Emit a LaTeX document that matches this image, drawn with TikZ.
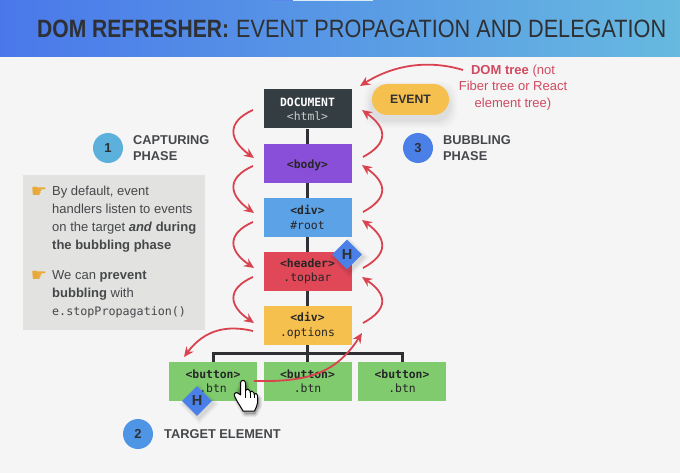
\documentclass[tikz,border=0pt]{standalone}
\usepackage{fontspec}
\setmainfont{Liberation Sans}
\setmonofont{DejaVu Sans Mono}
\newfontfamily\symfont{DejaVu Sans}
\usetikzlibrary{arrows.meta,shapes.geometric}
\definecolor{bgc}{HTML}{F5F5F5}
\definecolor{barl}{HTML}{4A78EA}
\definecolor{barr}{HTML}{67B9E0}
\definecolor{ink}{HTML}{2E3033}
\definecolor{txt}{HTML}{45474A}
\definecolor{redc}{HTML}{D9434F}
\definecolor{redt}{HTML}{CF4A60}
\definecolor{panel}{HTML}{E2E2E0}
\definecolor{docc}{HTML}{343E42}
\definecolor{bodyc}{HTML}{8A4FD8}
\definecolor{divc}{HTML}{5BA2E6}
\definecolor{headc}{HTML}{E04858}
\definecolor{optc}{HTML}{F6C04E}
\definecolor{btnc}{HTML}{80CB6E}
\definecolor{bluec}{HTML}{4B80E8}
\definecolor{capc}{HTML}{5BB0DC}
\definecolor{tgtc}{HTML}{4F95E6}
\definecolor{pointc}{HTML}{E8A93A}
\tikzset{
  dombox/.style={draw=none,minimum width=88pt,minimum height=39pt,inner sep=0pt,align=center,
    font=\ttfamily\fontsize{11.4}{14.2}\selectfont,text=black!85,
    execute at begin node={\rule{0pt}{12pt}}},
  tree/.style={draw=ink,line width=3pt},
  flow/.style={draw=redc,line width=1.8pt,-{Stealth[length=10pt,width=9pt]}},
  badge/.style={circle,minimum size=30pt,inner sep=0pt,font=\bfseries\fontsize{13}{13}\selectfont,text=ink},
  phase/.style={anchor=west,align=left,inner sep=0pt,font=\bfseries\fontsize{12.8}{15.7}\selectfont,text=txt},
  hmark/.style={diamond,fill=bluec,minimum width=30pt,minimum height=30pt,inner sep=0pt,
    font=\bfseries\fontsize{14.5}{14.5}\selectfont,text=ink},
  note/.style={anchor=west,align=left,inner sep=0pt,font=\fontsize{13}{17.9}\selectfont,text=txt},
  pointer/.style={inner sep=0pt,font=\symfont\fontsize{18}{18}\selectfont,text=pointc},
}
\begin{document}
\begin{tikzpicture}[x=1pt,y=-1pt]
\useasboundingbox (0,0) rectangle (680,473);
\fill[bgc] (0,0) rectangle (680,473);
\shade[left color=barl,right color=barr] (0,0) rectangle (680,57);
\fill[barl!90!white] (272,0) rectangle (293,1);
\fill[white!75!barr] (293,0) rectangle (373,1);
\node[anchor=west,inner sep=0pt,text=ink] (title) at (37,28.5)
  {\resizebox{192pt}{17.5pt}{\textbf{DOM REFRESHER:}}};
\node[anchor=west,inner sep=0pt,text=ink] (title2) at (236,28.5)
  {\resizebox{430pt}{17.5pt}{EVENT PROPAGATION AND DELEGATION}};

% grey panel
\fill[panel] (23,175) rectangle (205,330);
\node[pointer] (p1) at (39,192) {☛};
\node[note] (n1) at (52,219) {By default, event\\handlers listen to events\\on the target \textbf{\textit{and}} \textbf{during}\\\textbf{the bubbling phase}};
\node[pointer] (p2) at (39,276.5) {☛};
\node[note] (n2) at (52,294.5) {We can \textbf{prevent}\\\textbf{bubbling} with\\{\ttfamily\fontsize{11.7}{17.9}\selectfont e.stopPropagation()}};

% DOM boxes
\node[dombox,fill=docc,text=white] (doc) at (307.5,109) {\textbf{DOCUMENT}\\{\color{white!80!black}<html>}};
\node[dombox,fill=bodyc] (body) at (307.5,163.5) {\textbf{<body>}};
\node[dombox,fill=divc] (root) at (307.5,217.5) {\textbf{<div>}\\\#root};
\node[dombox,fill=headc] (head) at (307.5,271.5) {\textbf{<header>}\\.topbar};
\node[dombox,fill=optc] (opt) at (307.5,325.5) {\textbf{<div>}\\.options};
\node[dombox,fill=btnc] (b1) at (213,381.5) {\textbf{<button>}\\.btn};
\node[dombox,fill=btnc] (b2) at (307.5,381.5) {\textbf{<button>}\\.btn};
\node[dombox,fill=btnc] (b3) at (402,381.5) {\textbf{<button>}\\.btn};
\draw[tree] (doc) -- (body);
\draw[tree] (body) -- (root);
\draw[tree] (root) -- (head);
\draw[tree] (head) -- (opt);
\draw[tree] (opt) -- (b2);
\coordinate (trunk) at (307.5,353.5);
\draw[tree,line join=miter] (b1.north) |- (trunk) -| (b3.north);

% event pill
\foreach \g/\o in {8/.015,6/.02,4/.025,2/.03}{
  \fill[black,fill opacity=\o,rounded corners=15pt] (372-\g,85-\g+5) rectangle (449+\g,115+\g+5);}
\node[fill=optc,rounded corners=15.5pt,minimum width=77pt,minimum height=31pt,inner sep=0pt,
  font=\bfseries\fontsize{12.2}{12}\selectfont,text=ink] (event) at (410.5,99.5) {EVENT};

% labels
\node[badge,fill=capc] (c1) at (108,148) {1};
\node[phase] (l1) at (133,148) {CAPTURING\\PHASE};
\node[badge,fill=bluec] (c3) at (418,148) {3};
\node[phase] (l3) at (443,148) {BUBBLING\\PHASE};
\node[badge,fill=tgtc] (c2) at (138,434) {2};
\node[phase] (l2) at (164,434) {TARGET ELEMENT};
\node[align=center,inner sep=0pt,text=redt,font=\fontsize{13}{16.7}\selectfont] (dom) at (513,87.5)
  {\textbf{DOM tree} (not\\Fiber tree or React\\element tree)};

% arrows
\coordinate (ca1) at (253,110); \coordinate (cb1) at (254,158);
\coordinate (ca2) at (253,166); \coordinate (cb2) at (254,213);
\coordinate (ca3) at (253,222); \coordinate (cb3) at (254,268);
\coordinate (ca4) at (253,277); \coordinate (cb4) at (254,323);
\coordinate (ba1) at (363,157); \coordinate (bb1) at (362,110);
\coordinate (ba2) at (363,212); \coordinate (bb2) at (362,165);
\coordinate (ba3) at (363,268); \coordinate (bb3) at (362,220);
\coordinate (ba4) at (363,323); \coordinate (bb4) at (362,277);
\draw[flow] (ca1) .. controls (226,122) and (229,140) .. (cb1);
\draw[flow] (ca2) .. controls (226,178) and (229,195) .. (cb2);
\draw[flow] (ca3) .. controls (226,234) and (229,251) .. (cb3);
\draw[flow] (ca4) .. controls (226,289) and (229,306) .. (cb4);
\draw[flow] (ba1) .. controls (389,143) and (387,128) .. (bb1);
\draw[flow] (ba2) .. controls (389,198) and (387,183) .. (bb2);
\draw[flow] (ba3) .. controls (389,254) and (387,238) .. (bb3);
\draw[flow] (ba4) .. controls (389,309) and (387,294) .. (bb4);
\coordinate (tc) at (253,331); \coordinate (td) at (184,357);
\draw[flow] (tc) .. controls (228,325) and (205,329) .. (td);
\coordinate (ua) at (254,381); \coordinate (ub) at (362,333);
\draw[flow] (ua) .. controls (305,382) and (335,375) .. (ub);
\coordinate (da) at (463,70);
\coordinate (db) at (360,86);
\draw[flow] (da) .. controls (430,60) and (395,64) .. (db);

% H diamonds
\foreach \cx/\cy in {347/254.5,197/401}{
  \foreach \g/\o in {20/.03,18/.04,16/.05}{
    \fill[black,fill opacity=\o] (\cx+2-\g,\cy+3) -- (\cx+2,\cy+3-\g) -- (\cx+2+\g,\cy+3) -- (\cx+2,\cy+3+\g) -- cycle;}}
\node[hmark] (h1) at (347,254.5) {H};
\node[hmark] (h2) at (197,401) {H};

% hand cursor
\foreach \g/\o in {3/.06,2/.07,1/.08}{
  \fill[black,fill opacity=\o,line join=round,draw=black,draw opacity=\o,line width=2*\g pt]
    (241,386) -- (241,383) -- (246,383) -- (249,394) -- (259,398) -- (259,406) -- (255,414) -- (245,414) -- (236,398) -- cycle;}
\draw[black,fill=white,line width=1pt,line join=round]
  (240.5,395) -- (240.5,383) .. controls (240.5,379.5) and (245.5,379.5) .. (245.5,383)
  -- (245.5,390.5) .. controls (246,388.5) and (249.5,388.5) .. (250,391)
  -- (250,392.5) .. controls (250.5,390.5) and (253.5,390.5) .. (254,393)
  -- (254,394.5) .. controls (254.5,393) and (257.5,393) .. (257.5,396)
  -- (257.5,403) .. controls (257.5,406) and (255.5,408) .. (254.5,411)
  -- (243,411) .. controls (241,407) and (237,402) .. (234.5,396)
  .. controls (233.5,393) and (236.5,391.5) .. (238.5,393.5) -- cycle;
\draw[black,line width=.7pt] (245.5,391) -- (245.5,398) (250,392) -- (250,398) (254,394) -- (254,398);
\end{tikzpicture}
\end{document}
